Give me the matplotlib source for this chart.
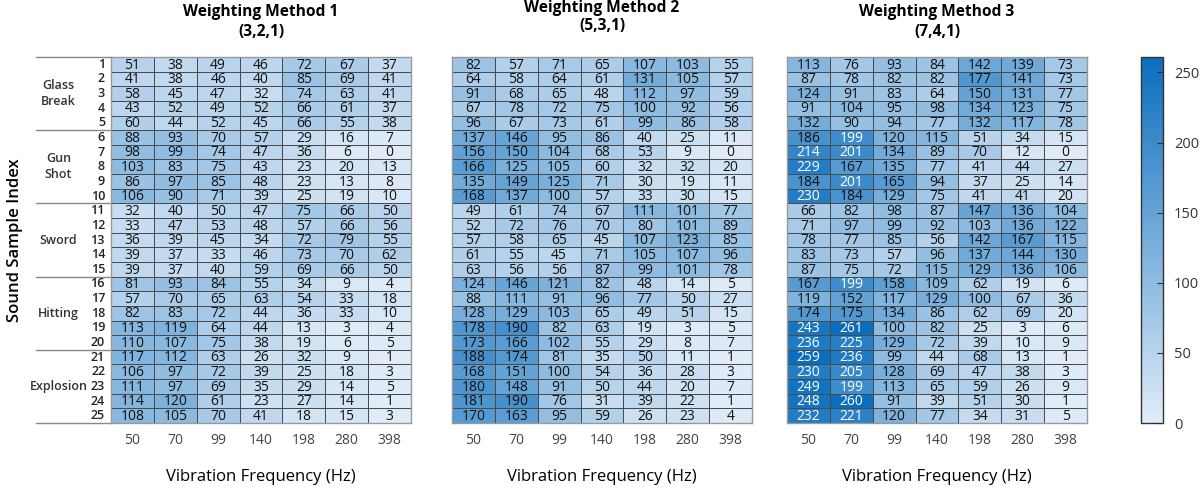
import numpy as np
import matplotlib
matplotlib.use("Agg")
import matplotlib.pyplot as plt
from matplotlib.colors import LinearSegmentedColormap

plt.rcParams['font.family'] = ['Open Sans', 'DejaVu Sans']

freqs = ['50', '70', '99', '140', '198', '280', '398']
groups = ['Glass\nBreak', 'Gun\nShot', 'Sword', 'Hitting', 'Explosion']
titles = ['Weighting Method 1\n(3,2,1)', 'Weighting Method 2\n(5,3,1)', 'Weighting Method 3\n(7,4,1)']

method1 = [
    [51, 38, 49, 46, 72, 67, 37], [41, 38, 46, 40, 85, 69, 41], [58, 45, 47, 32, 74, 63, 41],
    [43, 52, 49, 52, 66, 61, 37], [60, 44, 52, 45, 66, 55, 38], [88, 93, 70, 57, 29, 16, 7],
    [98, 99, 74, 47, 36, 6, 0], [103, 83, 75, 43, 23, 20, 13], [86, 97, 85, 48, 23, 13, 8],
    [106, 90, 71, 39, 25, 19, 10], [32, 40, 50, 47, 75, 66, 50], [33, 47, 53, 48, 57, 66, 56],
    [36, 39, 45, 34, 72, 79, 55], [39, 37, 33, 46, 73, 70, 62], [39, 37, 40, 59, 69, 66, 50],
    [81, 93, 84, 55, 34, 9, 4], [57, 70, 65, 63, 54, 33, 18], [82, 83, 72, 44, 36, 33, 10],
    [113, 119, 64, 44, 13, 3, 4], [110, 107, 75, 38, 19, 6, 5], [117, 112, 63, 26, 32, 9, 1],
    [106, 97, 72, 39, 25, 18, 3], [111, 97, 69, 35, 29, 14, 5], [114, 120, 61, 23, 27, 14, 1],
    [108, 105, 70, 41, 18, 15, 3],
]
method2 = [
    [82, 57, 71, 65, 107, 103, 55], [64, 58, 64, 61, 131, 105, 57], [91, 68, 65, 48, 112, 97, 59],
    [67, 78, 72, 75, 100, 92, 56], [96, 67, 73, 61, 99, 86, 58], [137, 146, 95, 86, 40, 25, 11],
    [156, 150, 104, 68, 53, 9, 0], [166, 125, 105, 60, 32, 32, 20], [135, 149, 125, 71, 30, 19, 11],
    [168, 137, 100, 57, 33, 30, 15], [49, 61, 74, 67, 111, 101, 77], [52, 72, 76, 70, 80, 101, 89],
    [57, 58, 65, 45, 107, 123, 85], [61, 55, 45, 71, 105, 107, 96], [63, 56, 56, 87, 99, 101, 78],
    [124, 146, 121, 82, 48, 14, 5], [88, 111, 91, 96, 77, 50, 27], [128, 129, 103, 65, 49, 51, 15],
    [178, 190, 82, 63, 19, 3, 5], [173, 166, 102, 55, 29, 8, 7], [188, 174, 81, 35, 50, 11, 1],
    [168, 151, 100, 54, 36, 28, 3], [180, 148, 91, 50, 44, 20, 7], [181, 190, 76, 31, 39, 22, 1],
    [170, 163, 95, 59, 26, 23, 4],
]
method3 = [
    [113, 76, 93, 84, 142, 139, 73], [87, 78, 82, 82, 177, 141, 73], [124, 91, 83, 64, 150, 131, 77],
    [91, 104, 95, 98, 134, 123, 75], [132, 90, 94, 77, 132, 117, 78], [186, 199, 120, 115, 51, 34, 15],
    [214, 201, 134, 89, 70, 12, 0], [229, 167, 135, 77, 41, 44, 27], [184, 201, 165, 94, 37, 25, 14],
    [230, 184, 129, 75, 41, 41, 20], [66, 82, 98, 87, 147, 136, 104], [71, 97, 99, 92, 103, 136, 122],
    [78, 77, 85, 56, 142, 167, 115], [83, 73, 57, 96, 137, 144, 130], [87, 75, 72, 115, 129, 136, 106],
    [167, 199, 158, 109, 62, 19, 6], [119, 152, 117, 129, 100, 67, 36], [174, 175, 134, 86, 62, 69, 20],
    [243, 261, 100, 82, 25, 3, 6], [236, 225, 129, 72, 39, 10, 9], [259, 236, 99, 44, 68, 13, 1],
    [230, 205, 128, 69, 47, 38, 3], [249, 199, 113, 65, 59, 26, 9], [248, 260, 91, 39, 51, 30, 1],
    [232, 221, 120, 77, 34, 31, 5],
]

W, H = 1202, 490
vmax = 261
cmap = LinearSegmentedColormap.from_list('blu', ['#e1ecf8', '#0a6ebd'])

fig = plt.figure(figsize=(W / 100, H / 100), dpi=100)

def px_axes(x0, y0, x1, y1):
    return fig.add_axes([x0 / W, 1 - y1 / H, (x1 - x0) / W, (y1 - y0) / H])

panel_x = [111, 452, 787]
top, bottom = 57, 423
title_y = [22, 17, 22]

for k, data in enumerate([method1, method2, method3]):
    arr = np.array(data)
    nr, nc = arr.shape
    ax = px_axes(panel_x[k], top, panel_x[k] + 300, bottom)
    mesh = ax.pcolormesh(arr, cmap=cmap, vmin=0, vmax=vmax,
                         edgecolors='#4a4a4a', linewidth=0.5)
    ax.set_xlim(0, nc)
    ax.set_ylim(nr, 0)
    for i in range(nr):
        for j in range(nc):
            v = arr[i, j]
            ax.text(j + 0.5, i + 0.55, str(v), ha='center', va='center', fontsize=10,
                    fontweight='medium', color='white' if v > 195 else '#111111')
    ax.set_xticks(np.arange(nc) + 0.5)
    ax.set_xticklabels(freqs, fontsize=10, color='#444444')
    ax.tick_params(axis='x', length=0, pad=7)
    ax.set_yticks([])
    for s in ax.spines.values():
        s.set_color('#999999')
        s.set_linewidth(1)
    fig.text((panel_x[k] + 150) / W, 1 - 477 / H, 'Vibration Frequency (Hz)',
             ha='center', va='center', fontsize=12, fontweight='medium')
    fig.text((panel_x[k] + 150) / W, 1 - title_y[k] / H, titles[k], ha='center', va='center',
             fontsize=11.2, fontweight='bold', linespacing=1.25)

    if k == 0:
        tr = ax.get_yaxis_transform()
        for i in range(nr):
            ax.text(-0.02, i + 0.5, str(i + 1), transform=tr, ha='right', va='center',
                    fontsize=9, fontweight='semibold', color='#222222')
        for g in range(len(groups) + 1):
            ax.plot([-0.25, 0], [g * 5, g * 5], transform=tr, color='#888888',
                    lw=1, clip_on=False)
        for g, name in enumerate(groups):
            ax.text(-0.175, g * 5 + 2.5, name, transform=tr, ha='center', va='center',
                    fontsize=9, fontweight='semibold', color='#333333', linespacing=1.3)
        ax.text(-0.32, nr / 2, 'Sound Sample Index', transform=tr, rotation=90,
                ha='center', va='center', fontsize=12, fontweight='semibold')

cax = px_axes(1141, top, 1163, bottom)
cb = fig.colorbar(mesh, cax=cax, ticks=[0, 50, 100, 150, 200, 250])
cb.outline.set_color('#333333')
cb.outline.set_linewidth(1)
cax.tick_params(direction='in', length=4, labelsize=10.5, colors='#333333', pad=8)

fig.savefig('out.png', dpi=100)
